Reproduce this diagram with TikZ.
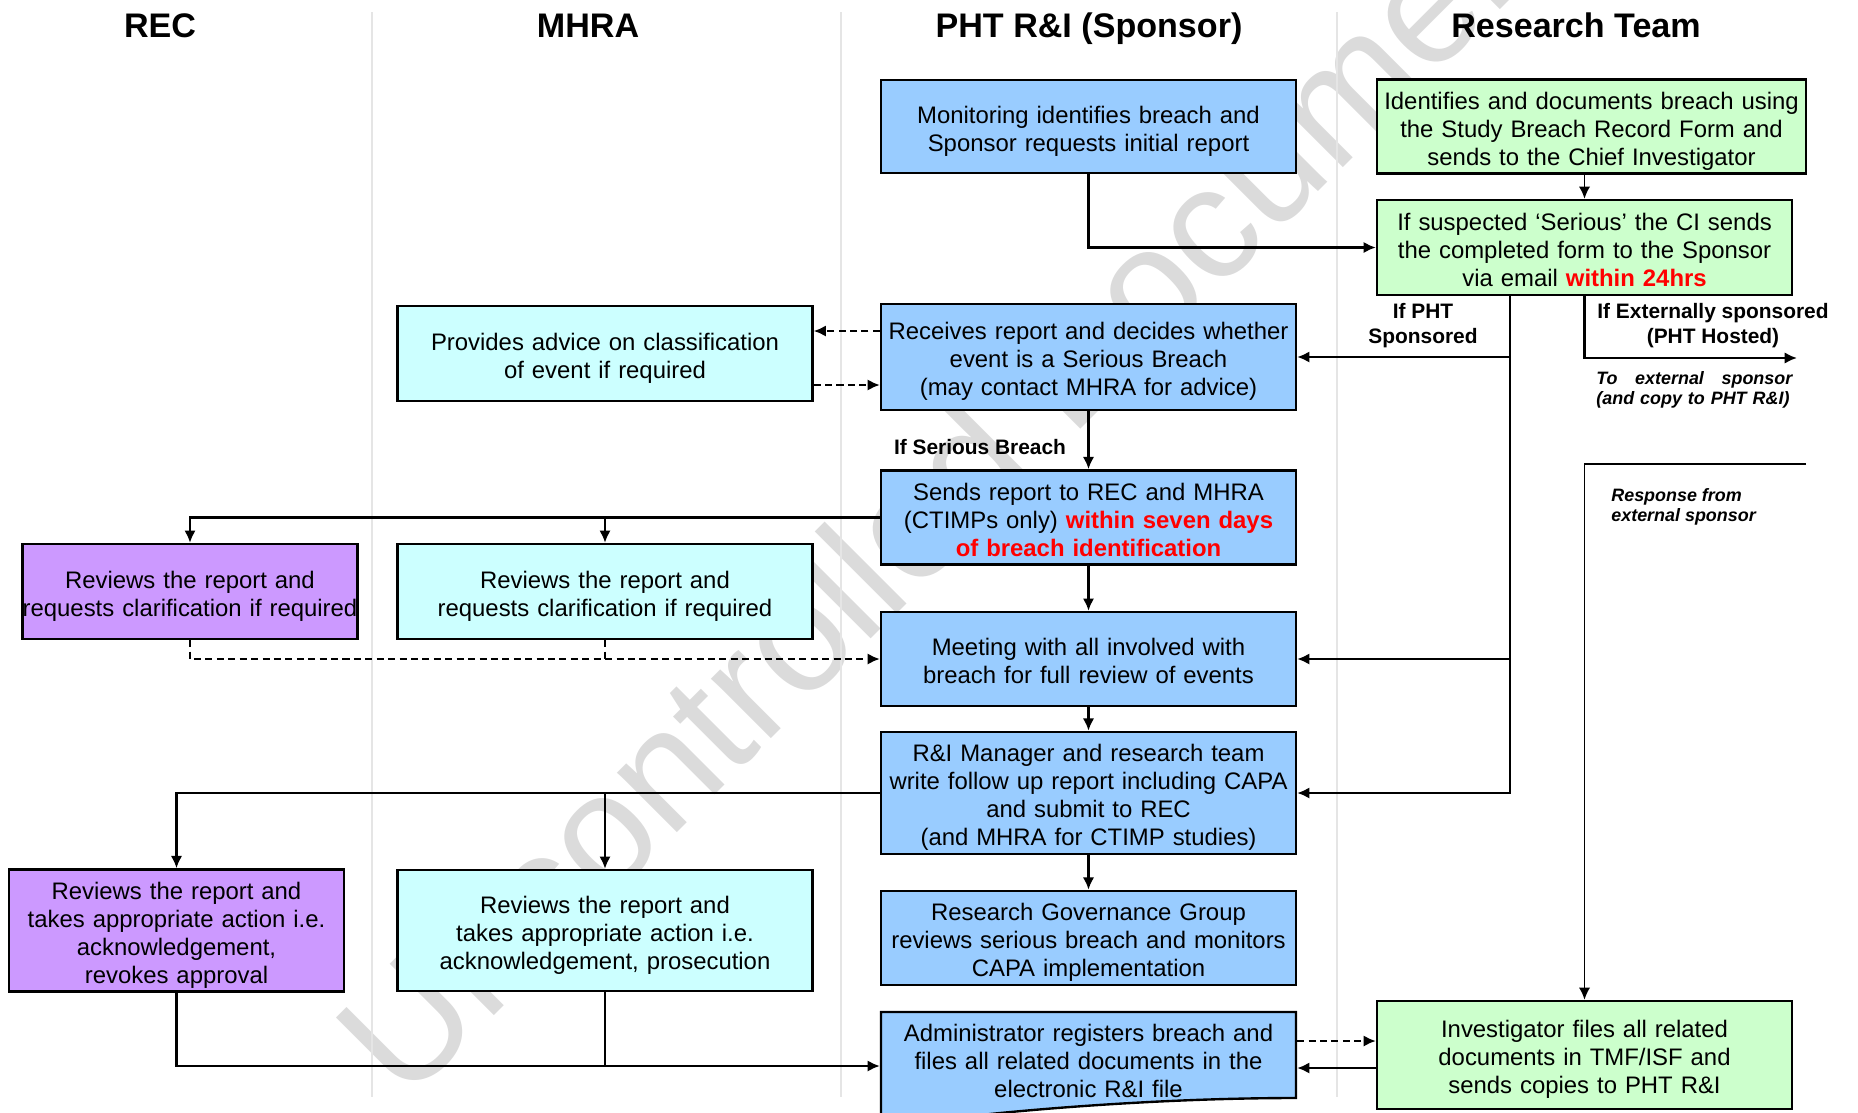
\documentclass[tikz,border=0pt]{standalone}
\usepackage{fontspec}
\setmainfont{Liberation Sans}
\usetikzlibrary{positioning, arrows.meta, calc}

\definecolor{sponsorblue}{HTML}{99CCFF}
\definecolor{teamgreen}{HTML}{CCFFCC}
\definecolor{agencycyan}{HTML}{CCFFFF}
\definecolor{ethicspurple}{HTML}{CC99FF}
\definecolor{alertred}{HTML}{FF0000}

\newcommand{\flowfont}{\fontsize{13.6}{15.9}\selectfont}
\newcommand{\headfont}{\fontsize{19.4}{23}\selectfont\bfseries}
\newcommand{\lblfont}{\fontsize{11.9}{14.2}\selectfont\bfseries}
\newcommand{\notefont}{\fontsize{10.2}{11.4}\selectfont\bfseries\itshape}
\newcommand{\wmfont}{\fontsize{91}{92}\selectfont}
\newcommand{\hot}[1]{{\color{alertred}\bfseries #1}}

\begin{document}
\begin{tikzpicture}[
    x=0.02cm, y=-0.02cm,
    box/.style={rectangle, draw, line width=1.35pt, inner xsep=0pt, inner ysep=2pt, align=center, font=\flowfont, text width=8.3cm,
        execute at begin node={\noindent\rule{0pt}{1.1em}},
        execute at end node={\rule[-0.21em]{0pt}{0.21em}}},
    sponsor/.style={box, fill=sponsorblue},
    team/.style={box, fill=teamgreen},
    agency/.style={box, fill=agencycyan},
    ethics/.style={box, fill=ethicspurple, text width=6.7cm},
    head/.style={font=\headfont, anchor=base},
    lbl/.style={font=\lblfont, align=center},
    note/.style={font=\notefont, inner sep=0pt, anchor=north west},
    flow/.style={-{Latex[length=7pt, width=6.5pt]}, line width=1.6pt},
    thinflow/.style={flow, line width=1.1pt},
    dflow/.style={flow, dash pattern=on 4pt off 2.5pt},
    dline/.style={line width=1.6pt, dash pattern=on 4pt off 2.5pt},
    lane/.style={draw=black!10, line width=1pt},
    wmark/.style={text=black!14, font=\wmfont, rotate=45, anchor=base west, inner sep=0pt}
]

\clip (0,0) rectangle (1858,1112);

% Watermark
\node[wmark] (wm) at (405,1105) {Uncontrolled Document};

% Lanes
\foreach \x in {372,841,1337} {
    \draw[lane] (\x,12) -- (\x,1097);
}

% Lane headings
\node[head] (hrec) at (160,37) {REC};
\node[head] (hmhra) at (588,37) {MHRA};
\node[head] (hpht) at (1089,37) {PHT R\&I (Sponsor)};
\node[head] (hteam) at (1576,37) {Research Team};

% Sponsor column
\node[sponsor, minimum height=1.86cm] (monitor) at (1088.5,126.5) {Monitoring identifies breach and\\Sponsor requests initial report};
\node[sponsor, minimum height=2.12cm] (receive) at (1088.5,357) {Receives report and decides whether\\event is a Serious Breach\\(may contact MHRA for advice)};
\node[sponsor, minimum height=1.86cm] (sends) at (1088.5,517.5) {Sends report to REC and MHRA\\(CTIMPs only) \hot{within seven days}\\\hot{of breach identification}};
\node[sponsor, minimum height=1.88cm] (meeting) at (1088.5,659) {Meeting with all involved with\\breach for full review of events};
\node[sponsor, minimum height=2.44cm] (followup) at (1088.5,793) {R\&I Manager and research team\\write follow up report including CAPA\\and submit to REC\\(and MHRA for CTIMP studies)};
\node[sponsor, minimum height=1.88cm] (rgg) at (1088.5,938) {Research Governance Group\\reviews serious breach and monitors\\CAPA implementation};

% Document shape of the admin box
\draw[line width=1.35pt, fill=sponsorblue] (881,1012) -- (1296,1012) -- (1296,1098)
    .. controls (1200,1098) and (1090,1104) .. (990,1114) -- (881,1130) -- cycle;
\node[box, draw=none, minimum height=1.9cm] (admin) at (1088.5,1059) {Administrator registers breach and\\files all related documents in the\\electronic R\&I file};

% Research team column
\node[team, text width=8.58cm, minimum height=1.86cm] (identify) at (1591.5,126.5) {Identifies and documents breach using\\the Study Breach Record Form and\\sends to the Chief Investigator};
\node[team, minimum height=1.9cm] (suspect) at (1584.5,247.5) {If suspected ‘Serious’ the CI sends\\the completed form to the Sponsor\\via email \hot{within 24hrs}};
\node[team, minimum height=2.16cm] (invest) at (1584.5,1055) {Investigator files all related\\documents in TMF/ISF and\\sends copies to PHT R\&I};

% MHRA column
\node[agency, minimum height=1.9cm] (advice) at (605,353.5) {Provides advice on classification\\of event if required};
\node[agency, minimum height=1.9cm] (mhrarev1) at (605,591.5) {Reviews the report and\\requests clarification if required};
\node[agency, minimum height=2.42cm] (mhrarev2) at (605,930.5) {Reviews the report and\\takes appropriate action i.e.\\acknowledgement, prosecution};

% REC column
\node[ethics, minimum height=1.9cm] (recrev1) at (190,591.5) {Reviews the report and\\requests clarification if required};
\node[ethics, minimum height=2.42cm] (recrev2) at (176.5,930.5) {Reviews the report and\\takes appropriate action i.e.\\acknowledgement,\\revokes approval};

% Labels
\node[lbl] (ifserious) at (980,447) {If Serious Breach};
\node[lbl] (ifpht) at (1423,326) {If PHT\\Sponsored};
\node[lbl] (ifext) at (1713,326) {If Externally sponsored\\(PHT Hosted)};
\node[note, text width=3.92cm, align=left] (toext) at (1596,371) {To\hfill external\hfill sponsor\\(and copy to PHT R\&I)};
\node[note, align=left] (resptxt) at (1611,488) {Response from\\external sponsor};

% Helper points
\coordinate (pht) at ([xshift=-1.49cm]suspect.south);
\coordinate (extsp) at (1797,358);
\coordinate (resp) at (1806,464);
\coordinate (askq) at ([yshift=0.52cm]receive.west);
\coordinate (askr) at ([yshift=-0.56cm]receive.west);
\coordinate (adminin) at ([yshift=-0.14cm]admin.west);
\coordinate (filea) at ([yshift=0.28cm]invest.west);
\coordinate (fileb) at ([yshift=-0.26cm]invest.west);

% Start of the process
\draw[flow] (monitor.south) |- (suspect.west);
\draw[thinflow] (identify.south -| suspect.north) -- (suspect.north);

% PHT sponsored branch
\draw[flow] (pht) |- (followup.east);
\draw[flow] (pht |- receive.east) -- (receive.east);
\draw[flow] (pht |- meeting.east) -- (meeting.east);

% Externally sponsored branch
\draw[flow] (suspect.south) |- (extsp);
\draw[thinflow] (resp) -| (invest.north);

% Advice from MHRA
\draw[dflow] (askq) -- (askq -| advice.east);
\draw[dflow] (askr -| advice.east) -- (askr);

% Sponsor chain
\draw[flow] (receive.south) -- (sends.north);
\draw[flow] (sends.south) -- (meeting.north);
\draw[flow] (meeting.south) -- (followup.north);
\draw[flow] (followup.south) -- (rgg.north);

% To REC and MHRA
\draw[flow] (sends.west) -| (recrev1.north);
\draw[flow] (sends.west) -| (mhrarev1.north);
\draw[dflow] (recrev1.south) |- (meeting.west);
\draw[dline] (mhrarev1.south) -- (mhrarev1.south |- meeting.west);

\draw[flow] (followup.west) -| (recrev2.north);
\draw[flow] (followup.west) -| (mhrarev2.north);
\draw[flow] (recrev2.south) |- (adminin);
\draw[line width=1.6pt] (mhrarev2.south) -- (mhrarev2.south |- adminin);

% Filing
\draw[dflow] (filea -| admin.east) -- (filea);
\draw[flow] (fileb) -- (fileb -| admin.east);

\end{tikzpicture}
\end{document}
